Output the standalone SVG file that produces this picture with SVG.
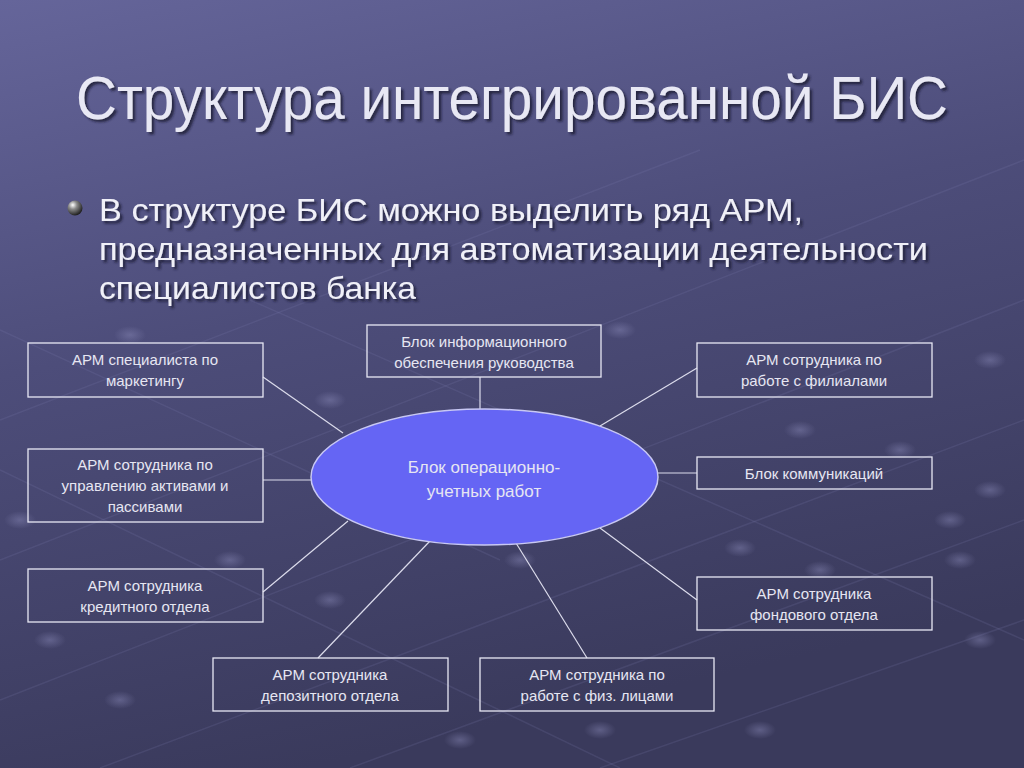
<svg xmlns="http://www.w3.org/2000/svg" width="1024" height="768" viewBox="0 0 1024 768">
<defs>
<linearGradient id="bg" x1="0" y1="0" x2="0.3" y2="1">
<stop offset="0" stop-color="#65659a"/>
<stop offset="0.45" stop-color="#4d4d7a"/>
<stop offset="1" stop-color="#3a3a5c"/>
</linearGradient>
<radialGradient id="ball" cx="0.35" cy="0.3" r="0.7">
<stop offset="0" stop-color="#ffffff"/>
<stop offset="0.4" stop-color="#8a8a8a"/>
<stop offset="1" stop-color="#222222"/>
</radialGradient>
<radialGradient id="dot" cx="0.5" cy="0.5" r="0.5">
<stop offset="0" stop-color="#8a8ab8" stop-opacity="0.45"/>
<stop offset="1" stop-color="#8a8ab8" stop-opacity="0"/>
</radialGradient>
<filter id="shadow" x="-5%" y="-20%" width="110%" height="150%">
<feDropShadow dx="2.5" dy="2.5" stdDeviation="0.8" flood-color="#1c1c30" flood-opacity="0.8"/>
</filter>
<style>
.box{fill:none;stroke:#e8e8f4;stroke-width:1.3}
.lbl{font-family:"Liberation Sans",Arial,sans-serif;font-size:15px;fill:#e6e6f2;text-anchor:middle}
.con{stroke:#dcdcec;stroke-width:1.2;fill:none}
.tex{stroke:#8080b0;stroke-opacity:0.18;stroke-width:1.5;fill:none}
.title{font-family:"Liberation Sans",Arial,sans-serif;font-size:61px;text-anchor:middle;fill:#e8e8f4;filter:url(#shadow)}
.body{font-family:"Liberation Sans",Arial,sans-serif;font-size:32px;fill:#f0f0f8;filter:url(#shadow)}
</style>
</defs>
<rect width="1024" height="768" fill="url(#bg)"/>
<g id="texture">
<path class="tex" d="M0 560 L1024 160 M0 700 L1024 300 M100 768 L1024 420 M350 768 L1024 520 M600 768 L1024 620 M0 420 L700 150"/>
<path class="tex" d="M0 330 L500 560 M0 470 L620 768 M250 300 L1024 640"/>
<ellipse cx="130" cy="335" rx="16" ry="9" fill="url(#dot)"/>
<ellipse cx="330" cy="400" rx="16" ry="9" fill="url(#dot)"/>
<ellipse cx="620" cy="330" rx="16" ry="9" fill="url(#dot)"/>
<ellipse cx="800" cy="430" rx="16" ry="9" fill="url(#dot)"/>
<ellipse cx="900" cy="450" rx="16" ry="9" fill="url(#dot)"/>
<ellipse cx="990" cy="490" rx="16" ry="9" fill="url(#dot)"/>
<ellipse cx="950" cy="520" rx="16" ry="9" fill="url(#dot)"/>
<ellipse cx="990" cy="360" rx="16" ry="9" fill="url(#dot)"/>
<ellipse cx="230" cy="560" rx="16" ry="9" fill="url(#dot)"/>
<ellipse cx="330" cy="600" rx="16" ry="9" fill="url(#dot)"/>
<ellipse cx="460" cy="740" rx="16" ry="9" fill="url(#dot)"/>
<ellipse cx="520" cy="560" rx="16" ry="9" fill="url(#dot)"/>
<ellipse cx="740" cy="548" rx="16" ry="9" fill="url(#dot)"/>
<ellipse cx="820" cy="570" rx="16" ry="9" fill="url(#dot)"/>
<ellipse cx="760" cy="730" rx="16" ry="9" fill="url(#dot)"/>
<ellipse cx="960" cy="560" rx="16" ry="9" fill="url(#dot)"/>
<ellipse cx="50" cy="640" rx="16" ry="9" fill="url(#dot)"/>
<ellipse cx="20" cy="520" rx="16" ry="9" fill="url(#dot)"/>
<ellipse cx="120" cy="700" rx="16" ry="9" fill="url(#dot)"/>
<ellipse cx="600" cy="730" rx="16" ry="9" fill="url(#dot)"/>
<ellipse cx="980" cy="640" rx="16" ry="9" fill="url(#dot)"/>
</g>
<g id="title">
<text class="title" x="512" y="119" textLength="872" lengthAdjust="spacingAndGlyphs">Структура интегрированной БИС</text>
</g>
<g id="bullet">
<circle cx="75" cy="208" r="7.5" fill="url(#ball)"/>
<text class="body" x="99" y="221" textLength="704" lengthAdjust="spacingAndGlyphs">В структуре БИС можно выделить ряд АРМ,</text>
<text class="body" x="99" y="260" textLength="829" lengthAdjust="spacingAndGlyphs">предназначенных для автоматизации деятельности</text>
<text class="body" x="99" y="299" textLength="317" lengthAdjust="spacingAndGlyphs">специалистов банка</text>
</g>
<g id="connectors">
<line class="con" x1="263" y1="377" x2="343" y2="433"/>
<line class="con" x1="263" y1="480" x2="311" y2="480"/>
<line class="con" x1="263" y1="592" x2="348" y2="521"/>
<line class="con" x1="480" y1="377" x2="480" y2="409"/>
<line class="con" x1="697" y1="368" x2="600" y2="426"/>
<line class="con" x1="697" y1="473" x2="658" y2="473"/>
<line class="con" x1="697" y1="600" x2="600" y2="528"/>
<line class="con" x1="318" y1="658" x2="430" y2="541"/>
<line class="con" x1="587" y1="658" x2="516" y2="543"/>
</g>
<g id="center">
<ellipse cx="484.5" cy="477" rx="173.5" ry="68" fill="#6565f4" stroke="#c8c8f4" stroke-width="1.5"/>
<text class="lbl" x="484" y="473" style="font-size:17px" fill="#f4f4fc">Блок операционно-</text>
<text class="lbl" x="484" y="497" style="font-size:17px" fill="#f4f4fc">учетных работ</text>
</g>
<g id="n-marketing">
<rect class="box" x="28" y="343" width="235" height="54"/>
<text class="lbl" x="145" y="365">АРМ специалиста по</text>
<text class="lbl" x="145" y="386">маркетингу</text>
</g>
<g id="n-assets">
<rect class="box" x="28" y="449" width="235" height="73"/>
<text class="lbl" x="145" y="470">АРМ сотрудника по</text>
<text class="lbl" x="145" y="491">управлению активами и</text>
<text class="lbl" x="145" y="512">пассивами</text>
</g>
<g id="n-credit">
<rect class="box" x="28" y="569" width="235" height="53"/>
<text class="lbl" x="145" y="591">АРМ сотрудника</text>
<text class="lbl" x="145" y="612">кредитного отдела</text>
</g>
<g id="n-info">
<rect class="box" x="367" y="325" width="234" height="52"/>
<text class="lbl" x="484" y="347">Блок информационного</text>
<text class="lbl" x="484" y="368">обеспечения руководства</text>
</g>
<g id="n-branches">
<rect class="box" x="697" y="343" width="235" height="54"/>
<text class="lbl" x="814" y="365">АРМ сотрудника по</text>
<text class="lbl" x="814" y="386">работе с филиалами</text>
</g>
<g id="n-comm">
<rect class="box" x="697" y="457" width="235" height="32"/>
<text class="lbl" x="814" y="479">Блок коммуникаций</text>
</g>
<g id="n-stock">
<rect class="box" x="697" y="577" width="235" height="53"/>
<text class="lbl" x="814" y="599">АРМ сотрудника</text>
<text class="lbl" x="814" y="620">фондового отдела</text>
</g>
<g id="n-deposit">
<rect class="box" x="213" y="658" width="235" height="53"/>
<text class="lbl" x="330" y="680">АРМ сотрудника</text>
<text class="lbl" x="330" y="701">депозитного отдела</text>
</g>
<g id="n-persons">
<rect class="box" x="480" y="658" width="234" height="53"/>
<text class="lbl" x="597" y="680">АРМ сотрудника по</text>
<text class="lbl" x="597" y="701">работе с физ. лицами</text>
</g>
</svg>
